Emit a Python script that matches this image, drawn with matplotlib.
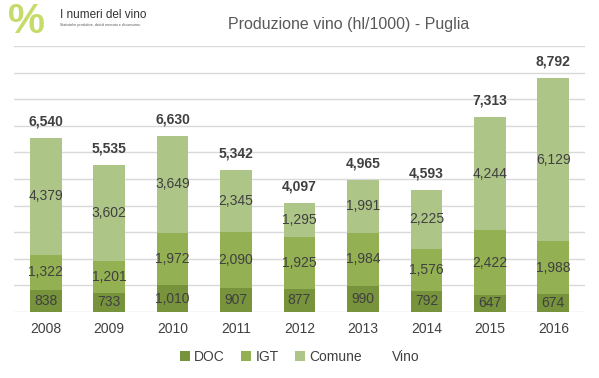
import numpy as np
import matplotlib.pyplot as plt

plt.rcParams['font.family'] = ['Liberation Sans', 'DejaVu Sans']

years = ['2008', '2009', '2010', '2011', '2012', '2013', '2014', '2015', '2016']
doc = [838, 733, 1010, 907, 877, 990, 792, 647, 674]
igt = [1322, 1201, 1972, 2090, 1925, 1984, 1576, 2422, 1988]
comune = [4379, 3602, 3649, 2345, 1295, 1991, 2225, 4244, 6129]
vino = [6540, 5535, 6630, 5342, 4097, 4965, 4593, 7313, 8792]

c_doc = '#77933c'
c_igt = '#93b053'
c_com = '#adc587'
txt = '#404040'

fig = plt.figure(figsize=(5.99, 3.78), dpi=100)
ax = fig.add_axes([14/599, 66/378, 571/599, 266/378])

x = np.arange(len(years))
w = 0.5
doc_a = np.array(doc)
igt_a = np.array(igt)
com_a = np.array(comune)

b1 = ax.bar(x, doc_a, w, color=c_doc, label='DOC', zorder=2)
b2 = ax.bar(x, igt_a, w, bottom=doc_a, color=c_igt, label='IGT', zorder=2)
b3 = ax.bar(x, com_a, w, bottom=doc_a + igt_a, color=c_com, label='Comune', zorder=2)
# invisible series for the legend entry "Vino"
b4 = ax.bar(x, np.zeros(len(x)), w, color='none', label='Vino')

for i in range(len(x)):
    ax.text(x[i], doc_a[i] / 2, f'{doc[i]:,}', ha='center', va='center', fontsize=10, color=txt, zorder=3)
    ax.text(x[i], doc_a[i] + igt_a[i] / 2, f'{igt[i]:,}', ha='center', va='center', fontsize=10, color=txt, zorder=3)
    ax.text(x[i], doc_a[i] + igt_a[i] + com_a[i] / 2, f'{comune[i]:,}', ha='center', va='center', fontsize=10, color=txt, zorder=3)
    ax.text(x[i], vino[i] + 620, f'{vino[i]:,}', ha='center', va='center', fontsize=10, fontweight='bold', color=txt, zorder=3)

ax.set_xlim(-0.5, len(x) - 0.5)
ax.set_ylim(0, 10000)
ax.set_yticks(np.arange(0, 10001, 1000))
ax.yaxis.grid(True, color='#d9d9d9', linewidth=1, zorder=0)
ax.set_axisbelow(True)
ax.tick_params(axis='y', left=False, labelleft=False)
ax.tick_params(axis='x', bottom=False, labelsize=10, labelcolor=txt, pad=4)
ax.set_xticks(x)
ax.set_xticklabels(years)
for s in ax.spines.values():
    s.set_visible(False)

fig.text(349/599, 1 - 24/378, 'Produzione vino (hl/1000) - Puglia', ha='center', va='center',
         fontsize=11.5, color='#595959')

# logo
fig.text(8/599, 1 - 22/378, '%', ha='left', va='center', fontsize=30, color='#c5dc6a', fontweight='bold')
fig.text(60/599, 1 - 15/378, 'I numeri del vino', ha='left', va='center', fontsize=8.5, color='#333333')
fig.text(60/599, 1 - 25/378, 'Statistiche produttive, dati di mercato e di consumo.', ha='left', va='center',
         fontsize=2.5, color='#555555')

ax.legend(handles=[b1, b2, b3, b4], labels=['DOC', 'IGT', 'Comune', 'Vino'], loc='center',
          bbox_to_anchor=(300/599, 1 - 357/378), bbox_transform=fig.transFigure, ncol=4, frameon=False,
          fontsize=10, handlelength=0.7, handleheight=0.7, handletextpad=0.3, columnspacing=1.2,
          labelcolor=txt)

fig.savefig('out.png', dpi=100)
